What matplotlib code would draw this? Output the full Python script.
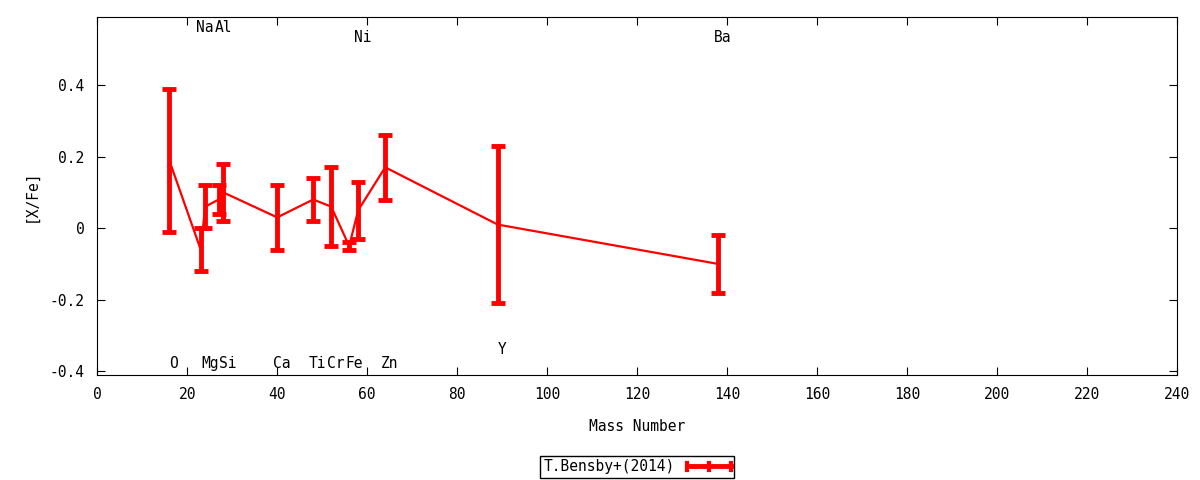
import numpy as np
import matplotlib.pyplot as plt
from matplotlib.ticker import FuncFormatter
from matplotlib.legend_handler import HandlerBase
from matplotlib.lines import Line2D

plt.rcParams['font.family'] = ['DejaVu Sans Mono']

# T.Bensby+(2014) abundances
elements = ['O', 'Na', 'Mg', 'Al', 'Si', 'Ca', 'Ti', 'Cr', 'Fe', 'Ni', 'Zn', 'Y', 'Ba']
mass = [16, 23, 24, 27, 28, 40, 48, 52, 56, 58, 64, 89, 138]
xfe = [0.19, -0.06, 0.06, 0.08, 0.10, 0.03, 0.08, 0.06, -0.05, 0.05, 0.17, 0.01, -0.10]
err = [0.20, 0.06, 0.06, 0.04, 0.08, 0.09, 0.06, 0.11, 0.01, 0.08, 0.09, 0.22, 0.08]

# label heights for element names
label_y = [-0.378, 0.562, -0.378, 0.562, -0.378, -0.378, -0.378, -0.378, -0.378,
           0.534, -0.378, -0.338, 0.534]


class GnuplotErrHandler(HandlerBase):
    # horizontal bar with ticks at both ends and the middle, like gnuplot's key
    def create_artists(self, legend, orig_handle, xdescent, ydescent,
                       width, height, fontsize, trans):
        y = height / 2 - ydescent
        x0, x1 = -xdescent, width - xdescent
        h = height * 0.35
        arts = [Line2D([x0, x1], [y, y], color='red', lw=3.5, transform=trans)]
        for xx in (x0, (x0 + x1) / 2, x1):
            arts.append(Line2D([xx, xx], [y - h, y + h], color='red', lw=3, transform=trans))
        return arts


def make_plot():
    fig = plt.figure(figsize=(12, 4.8), dpi=100)
    ax = fig.add_axes([0.081, 0.219, 0.9, 0.7456])

    eb = ax.errorbar(mass, xfe, yerr=err, color='red', lw=1.6, elinewidth=3.5,
                     capsize=5, capthick=3.5, label='T.Bensby+(2014)')

    for el, m, ly in zip(elements, mass, label_y):
        ax.text(m + 1, ly, el, ha='center', va='center', fontsize=10.5)

    ax.set_xlim(0, 240)
    ax.set_ylim(-0.41, 0.59)
    ax.set_xticks(np.arange(0, 241, 20))
    ax.set_yticks([-0.4, -0.2, 0, 0.2, 0.4])
    ax.yaxis.set_major_formatter(FuncFormatter(lambda v, p: '0' if abs(v) < 1e-9 else f'{v:g}'))
    ax.tick_params(direction='in', top=True, right=True, length=6, labelsize=10.5, pad=9)

    ax.set_xlabel('Mass Number', fontsize=10.5, labelpad=12)
    ax.set_ylabel('[X/Fe]', fontsize=10.5, labelpad=8)

    leg = ax.legend(handles=[eb], loc='upper center', bbox_to_anchor=(0.5, -0.205),
                    markerfirst=False, fancybox=False, framealpha=1, edgecolor='black',
                    fontsize=10.5, handlelength=3.0, borderpad=0.25,
                    handler_map={type(eb): GnuplotErrHandler()})
    leg.get_frame().set_linewidth(1)

    fig.savefig('out.png', dpi=100)


if __name__ == "__main__":
    make_plot()
